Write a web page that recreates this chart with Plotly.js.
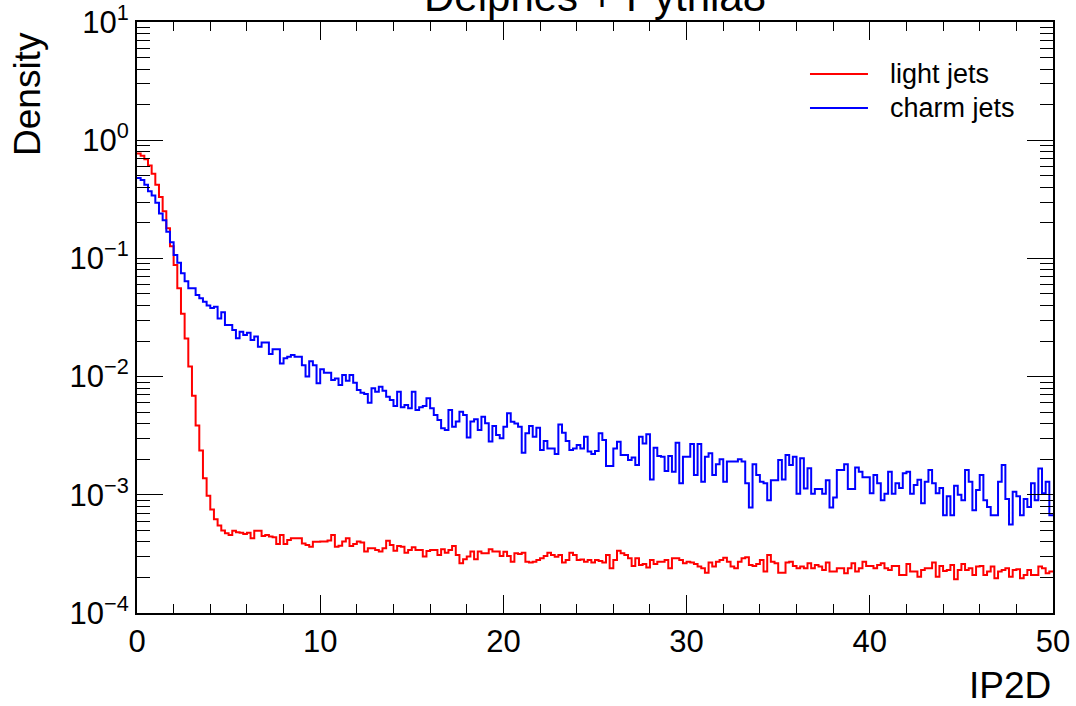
<!DOCTYPE html>
<html>
<head>
<meta charset="utf-8">
<script src="https://cdn.plot.ly/plotly-3.0.1.min.js"></script>
<style>
  html, body { margin: 0; padding: 0; background: #ffffff; }
  #chart { width: 1076px; height: 706px; }
</style>
</head>
<body>
<div id="chart"></div>
<script>
// ---- Histogram binning (IP2D) ----
const binLow = 0;
const binWidth = 0.2;

// ---- Series names ----
const seriesNames = ["light jets", "charm jets"];
const seriesColors = ["#ff0000", "#0000ff"];

// ---- Light-jet density per bin (250 bins, 0-50) ----
const lightJets = [
  0.77, 0.74, 0.69, 0.61, 0.52, 0.42, 0.33, 0.25, 0.18, 0.127,
  0.088, 0.056, 0.034, 0.021, 0.0122, 0.0069, 0.00385, 0.00237, 0.00138, 0.00098,
  0.00075, 0.00062, 0.00055, 0.0005, 0.000472, 0.000457, 0.000497, 0.000481, 0.000478, 0.000466,
  0.000478, 0.000429, 0.000497, 0.000497, 0.000449, 0.000457, 0.000443, 0.000438, 0.000383, 0.000457,
  0.000383, 0.000414, 0.000429, 0.000429, 0.000429, 0.000388, 0.000376, 0.000364, 0.000401, 0.000401,
  0.000402, 0.000402, 0.000410, 0.000457, 0.000364, 0.000371, 0.000402, 0.000428, 0.000369, 0.000384,
  0.000402, 0.000394, 0.000331, 0.000353, 0.000353, 0.000341, 0.000331, 0.000353, 0.000408, 0.000376,
  0.000337, 0.000369, 0.000364, 0.000324, 0.000341, 0.000360, 0.000341, 0.000341, 0.000300, 0.000335,
  0.000341, 0.000341, 0.000310, 0.000346, 0.000324, 0.000341, 0.000369, 0.000310, 0.000263, 0.000285,
  0.000300, 0.000331, 0.000285, 0.000331, 0.000320, 0.000320, 0.000346, 0.000331, 0.000331, 0.000304,
  0.000330, 0.000303, 0.000272, 0.000320, 0.000316, 0.000324, 0.000272, 0.000267, 0.000272, 0.000281,
  0.000290, 0.000303, 0.000324, 0.000309, 0.000299, 0.000309, 0.000267, 0.000281, 0.000324, 0.000309,
  0.000281, 0.000284, 0.000272, 0.000281, 0.000267, 0.000281, 0.000275, 0.000267, 0.000309, 0.000239,
  0.000281, 0.000337, 0.000320, 0.000309, 0.000290, 0.000250, 0.000290, 0.000255, 0.000260, 0.000243,
  0.000281, 0.000260, 0.000272, 0.000272, 0.000281, 0.000239, 0.000290, 0.000290, 0.000281, 0.000263,
  0.000272, 0.000267, 0.000260, 0.000247, 0.000239, 0.000219, 0.000267, 0.000247, 0.000272, 0.000281,
  0.000294, 0.000272, 0.000247, 0.000239, 0.000272, 0.000290, 0.000296, 0.000255, 0.000250, 0.000260,
  0.000281, 0.000224, 0.000310, 0.000272, 0.000263, 0.000219, 0.000219, 0.000267, 0.000272, 0.000250,
  0.000239, 0.000247, 0.000239, 0.000263, 0.000239, 0.000255, 0.000247, 0.000231, 0.000267, 0.000224,
  0.000224, 0.000239, 0.000239, 0.000217, 0.000239, 0.000263, 0.000224, 0.000239, 0.000272, 0.000250,
  0.000250, 0.000239, 0.000255, 0.000263, 0.000239, 0.000231, 0.000250, 0.000250, 0.000210, 0.000210,
  0.000260, 0.000224, 0.000224, 0.000203, 0.000231, 0.000239, 0.000239, 0.000267, 0.000203, 0.000250,
  0.000227, 0.000231, 0.000255, 0.000193, 0.000231, 0.000260, 0.000231, 0.000239, 0.000210, 0.000247,
  0.000250, 0.000210, 0.000224, 0.000247, 0.000197, 0.000224, 0.000231, 0.000239, 0.000203, 0.000231,
  0.000234, 0.000197, 0.000210, 0.000231, 0.000210, 0.000210, 0.000247, 0.000239, 0.000217, 0.000224
];

// ---- Charm-jet density per bin (250 bins, 0-50) ----
const charmJets = [
  0.48, 0.46, 0.42, 0.37, 0.34, 0.295, 0.24, 0.21, 0.168, 0.137,
  0.107, 0.092, 0.075, 0.064, 0.056, 0.056, 0.049, 0.046, 0.043, 0.040,
  0.038, 0.039, 0.031, 0.035, 0.0273, 0.0273, 0.0248, 0.0211, 0.0240, 0.0225,
  0.0235, 0.0204, 0.0218, 0.0179, 0.0194, 0.0194, 0.0155, 0.0170, 0.0170, 0.0129,
  0.0143, 0.0147, 0.0152, 0.0147, 0.0147, 0.0125, 0.0100, 0.0135, 0.0125, 0.0088,
  0.01153, 0.01079, 0.01079, 0.00935, 0.00966, 0.00849, 0.01032, 0.00924, 0.01032, 0.00889,
  0.00771, 0.00731, 0.00713, 0.00602, 0.00796, 0.00746, 0.00822, 0.00760, 0.00676, 0.00634,
  0.00564, 0.00746, 0.00550, 0.00575, 0.00539, 0.00746, 0.00522, 0.00550, 0.00564, 0.00655,
  0.00539, 0.00474, 0.00430, 0.00365, 0.00353, 0.00522, 0.00377, 0.00416, 0.00505, 0.00474,
  0.00306, 0.00416, 0.00435, 0.00353, 0.00458, 0.00403, 0.00282, 0.00382, 0.00321, 0.00301,
  0.00377, 0.00489, 0.00415, 0.00402, 0.00377, 0.00227, 0.00331, 0.00382, 0.00310, 0.00370,
  0.00239, 0.00285, 0.00247, 0.00247, 0.00221, 0.00394, 0.00335, 0.00285, 0.00239, 0.00247,
  0.00264, 0.00247, 0.00310, 0.00232, 0.00221, 0.00235, 0.00331, 0.00291, 0.00175, 0.00175,
  0.00247, 0.00281, 0.00217, 0.00217, 0.00197, 0.00207, 0.00179, 0.00310, 0.00272, 0.00325,
  0.00135, 0.00250, 0.00213, 0.00210, 0.00159, 0.00213, 0.00157, 0.00276, 0.00125, 0.00210,
  0.00210, 0.00269, 0.00147, 0.00269, 0.00129, 0.00210, 0.00225, 0.00147, 0.00181, 0.00200,
  0.00129, 0.00191, 0.00191, 0.00191, 0.00200, 0.00191, 0.00125, 0.00078, 0.00181, 0.00147,
  0.00129, 0.00125, 0.00090, 0.00133, 0.00133, 0.00197, 0.00135, 0.00217, 0.00179, 0.00210,
  0.00102, 0.00204, 0.00113, 0.00168, 0.00102, 0.00112, 0.00112, 0.00102, 0.00133, 0.00078,
  0.00095, 0.00162, 0.00162, 0.00181, 0.00112, 0.00112, 0.00170, 0.00157, 0.00141, 0.00141,
  0.00103, 0.00147, 0.00125, 0.00090, 0.00102, 0.00157, 0.00102, 0.00125, 0.00114, 0.00152,
  0.00157, 0.00102, 0.00121, 0.00134, 0.00085, 0.00129, 0.00162, 0.00125, 0.00103, 0.00114,
  0.00067, 0.00097, 0.00067, 0.00119, 0.00100, 0.00090, 0.00162, 0.00129, 0.00074, 0.00110,
  0.00147, 0.00090, 0.00079, 0.00067, 0.00067, 0.00129, 0.00179, 0.00092, 0.00056, 0.00106,
  0.00097, 0.00067, 0.00092, 0.00079, 0.00125, 0.00090, 0.00167, 0.00103, 0.00129, 0.00067
];

// ---- Axis ticks / labels ----
const xTickVals = [0, 10, 20, 30, 40, 50];
const yDecades = [-4, -3, -2, -1, 0, 1];
const yTickText = ["10<sup>\u22124</sup>", "10<sup>\u22123</sup>", "10<sup>\u22122</sup>",
                   "10<sup>\u22121</sup>", "10<sup>0</sup>", "10<sup>1</sup>"];
const titleText = "Delphes + Pythia8";
const xTitle = "IP2D";
const yTitle = "Density";

// ---- Build step traces from bins ----
function stepTrace(vals, name, color) {
  const x = [], y = [];
  for (let i = 0; i < vals.length; i++) {
    x.push(binLow + i * binWidth);
    y.push(vals[i]);
  }
  x.push(binLow + vals.length * binWidth);
  y.push(vals[vals.length - 1]);
  return {
    type: "scatter", mode: "lines", name: name, x: x, y: y,
    line: { shape: "hv", color: color, width: 2 },
    showlegend: false, hoverinfo: "skip"
  };
}

const traces = [
  stepTrace(lightJets, seriesNames[0], seriesColors[0]),
  stepTrace(charmJets, seriesNames[1], seriesColors[1])
];

const yTickVals = yDecades.map(d => Math.pow(10, d));
const yMinorVals = [];
for (let d = -4; d < 1; d++) for (let k = 2; k <= 9; k++) yMinorVals.push(k * Math.pow(10, d));

const FONT = "Liberation Sans, Arial, Helvetica, sans-serif";

// Custom legend (ROOT-style long line samples)
const legX0 = 0.7347, legX1 = 0.798, legTextX = 0.8199;
const legY = [0.912, 0.8545];
const shapes = [], annotations = [];
for (let s = 0; s < 2; s++) {
  shapes.push({ type: "line", xref: "paper", yref: "paper", x0: legX0, x1: legX1, y0: legY[s], y1: legY[s],
                line: { color: seriesColors[s], width: 2 } });
  annotations.push({ xref: "paper", yref: "paper", x: legTextX, y: legY[s], xanchor: "left", yanchor: "middle",
                     text: seriesNames[s], showarrow: false, font: { family: FONT, size: 27, color: "#000" } });
}
annotations.push({ xref: "paper", yref: "paper", x: 0.5, y: 1, xanchor: "center", yanchor: "bottom", yshift: 0,
                   text: titleText, showarrow: false, font: { family: FONT, size: 42, color: "#000" } });
annotations.push({ xref: "paper", yref: "paper", x: 1, y: -0.122, xanchor: "right", yanchor: "middle",
                   text: xTitle, showarrow: false, font: { family: FONT, size: 37, color: "#000" } });
annotations.push({ xref: "paper", yref: "paper", x: -0.119, y: 0.9865, xanchor: "center", yanchor: "top",
                   textangle: -90, text: yTitle, showarrow: false, font: { family: FONT, size: 37, color: "#000" } });

const layout = {
  width: 1076, height: 706,
  margin: { l: 137, r: 23, t: 22, b: 93, pad: 0 },
  paper_bgcolor: "#ffffff", plot_bgcolor: "#ffffff",
  font: { family: FONT, size: 31, color: "#000" },
  showlegend: false,
  xaxis: {
    range: [0, 50], tickmode: "array", tickvals: xTickVals, ticktext: xTickVals.map(String),
    ticks: "inside", ticklen: 18, tickwidth: 1, tickcolor: "#000",
    minor: { tickmode: "linear", tick0: 0, dtick: 2, ticks: "inside", ticklen: 9, tickwidth: 1, tickcolor: "#000", showgrid: false },
    showline: true, linewidth: 2, linecolor: "#000", mirror: "allticks",
    showgrid: false, zeroline: false, tickfont: { family: FONT, size: 31, color: "#000" }
  },
  yaxis: {
    type: "log", range: [-4, 1.00002], tickmode: "array", tickvals: yTickVals, ticktext: yTickText,
    ticks: "inside", ticklen: 26, tickwidth: 1, tickcolor: "#000",
    minor: { tickmode: "array", tickvals: yMinorVals, ticks: "inside", ticklen: 13, tickwidth: 1, tickcolor: "#000", showgrid: false },
    showline: true, linewidth: 2, linecolor: "#000", mirror: "allticks",
    showgrid: false, zeroline: false, tickfont: { family: FONT, size: 31, color: "#000" },
    ticklabeloverflow: "allow"
  },
  shapes: shapes,
  annotations: annotations
};

Plotly.newPlot("chart", traces, layout, { displayModeBar: false, staticPlot: true });
</script>
</body>
</html>
